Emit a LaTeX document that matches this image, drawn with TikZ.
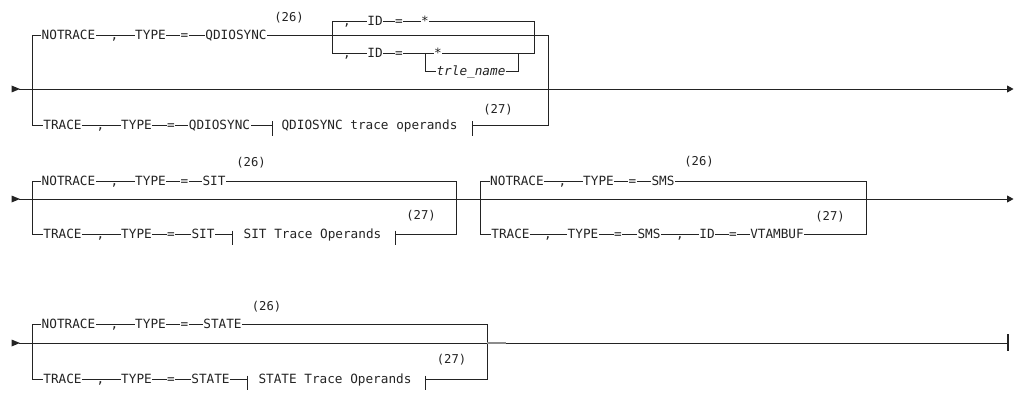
\documentclass[tikz,border=0pt]{standalone}
\usepackage{fontspec}
\newfontfamily\railfont{DejaVu Sans Mono}[ItalicFont={DejaVu Sans Mono Oblique}]
\usetikzlibrary{arrows.meta}
\definecolor{rgray}{RGB}{35,35,35}

\tikzset{
  rail/.style={draw=rgray, line width=0.9pt},
  kw/.style={font=\railfont\fontsize{12.7}{15}\selectfont, text=rgray, fill=white,
    inner xsep=0.6pt, inner ysep=0.4pt, anchor=base, yshift=-4.6pt},
  fnote/.style={font=\railfont\fontsize{12.2}{15}\selectfont, text=rgray, inner sep=0pt},
  railend/.style={-{Triangle[length=6.5pt,width=7pt]}}
}

\newcommand{\railstart}[1]{\fill[rgray] (11.5,#1-3.5) -- (20,#1) -- (11.5,#1+3.5) -- cycle;}

\begin{document}
\begin{tikzpicture}[x=1pt,y=-1pt]
\useasboundingbox (0,0) rectangle (1014,393);
\def\tickup{3.5}
\def\ticklen{11}

%%% first line: QDIOSYNC
\def\ya{35}
\def\ym{89}
\def\yb{125}
\railstart{\ym}
\draw[rail,railend] (19,\ym) -- (1013.5,\ym);
%choice NOTRACE / TRACE
\coordinate (r1tl) at (32,\ya);
\coordinate (r1bl) at (32,\yb);
\coordinate (r1tr) at (548,\ya);
\coordinate (r1br) at (548,\yb);
\draw[rail] (r1tr) -- (r1tl) -- (r1bl) -- (272,\yb);
\draw[rail] (472,\yb) -- (r1br) -- (r1tr);
\draw[rail] (272,\yb-\tickup) -- (272,\yb+\ticklen);
\draw[rail] (472,\yb-\tickup) -- (472,\yb+\ticklen);
%optional ID stack
\coordinate (r1id1) at (332,21);
\coordinate (r1id2) at (534,53);
\draw[rail] (r1id1) rectangle (r1id2);
\draw[rail] (425,53) |- (518,71) -- (518,53);

\foreach \x/\t [count=\i] in {68.5/NOTRACE,114.5/{,},150.5/TYPE,184.5/=,236/QDIOSYNC}
  \node[kw] (r1a\i) at (\x,\ya) {\t};
\foreach \x/\t [count=\i] in {347/{,},375/ID,399/=,425/*}
  \node[kw] (r1c\i) at (\x,21) {\t};
\foreach \x/\t [count=\i] in {347/{,},375/ID,399/=,438/*}
  \node[kw] (r1d\i) at (\x,53) {\t};
\node[kw] (r1trle) at (471,71) {\itshape trle\_name};
\foreach \x/\t [count=\i] in {62.5/TRACE,100.5/{,},136.5/TYPE,171/=,219.5/QDIOSYNC}
  \node[kw] (r1b\i) at (\x,\yb) {\t};
\node[kw,fill=none] (r1frag) at (369.5,\yb) {QDIOSYNC trace operands};
\node[fnote] (r1n26) at (289,18) {(26)};
\node[fnote] (r1n27) at (498,110) {(27)};

%%% second line: SIT and SMS
\def\ya{181}
\def\ym{199}
\def\yb{234}
\railstart{\ym}
\draw[rail,railend] (19,\ym) -- (1013.5,\ym);
%SIT
\coordinate (r2tl) at (32,\ya);
\coordinate (r2bl) at (32,\yb);
\coordinate (r2tr) at (456,\ya);
\coordinate (r2br) at (456,\yb);
\draw[rail] (r2tr) -- (r2tl) -- (r2bl) -- (232,\yb);
\draw[rail] (395,\yb) -- (r2br) -- (r2tr);
\draw[rail] (232,\yb-\tickup) -- (232,\yb+\ticklen);
\draw[rail] (395,\yb-\tickup) -- (395,\yb+\ticklen);
\foreach \x/\t [count=\i] in {68.5/NOTRACE,114.5/{,},150.5/TYPE,184.5/=,214/SIT}
  \node[kw] (r2a\i) at (\x,\ya) {\t};
\foreach \x/\t [count=\i] in {62.5/TRACE,100.5/{,},136.5/TYPE,171/=,203/SIT}
  \node[kw] (r2b\i) at (\x,\yb) {\t};
\node[kw,fill=none] (r2frag) at (312.5,\yb) {SIT Trace Operands};
\node[fnote] (r2n26) at (251,163) {(26)};
\node[fnote] (r2n27) at (421,216) {(27)};
%SMS
\coordinate (r2stl) at (480,\ya);
\coordinate (r2sbl) at (480,\yb);
\coordinate (r2str) at (866,\ya);
\coordinate (r2sbr) at (866,\yb);
\draw[rail] (r2str) -- (r2stl) -- (r2sbl) -- (r2sbr) -- cycle;
\foreach \x/\t [count=\i] in {517/NOTRACE,562.5/{,},598.5/TYPE,632.5/=,663/SMS}
  \node[kw] (r2c\i) at (\x,\ya) {\t};
\foreach \x/\t [count=\i] in {510.5/TRACE,548/{,},583/TYPE,618/=,649/SMS,680/{,},707/ID,733/=,777/VTAMBUF}
  \node[kw] (r2d\i) at (\x,\yb) {\t};
\node[fnote] (r2sn26) at (699,162) {(26)};
\node[fnote] (r2sn27) at (830,217) {(27)};

%%% third line: STATE
\def\ya{324}
\def\ym{343}
\def\yb{379}
\railstart{\ym}
\coordinate (r3end) at (1008,\ym);
\draw[rail] (19,\ym) -- (r3end);
\draw[rail,line width=1.5pt] (1008,\ym-9) -- (1008,\ym+8);
\coordinate (r3tl) at (32,\ya);
\coordinate (r3bl) at (32,\yb);
\coordinate (r3tr) at (487,\ya);
\coordinate (r3br) at (487,\yb);
\draw[rail] (r3tr) -- (r3tl) -- (r3bl) -- (247,\yb);
\draw[rail] (425,\yb) -- (r3br) -- (r3tr);
\draw[rail] (247,\yb-\tickup) -- (247,\yb+\ticklen);
\draw[rail] (425,\yb-\tickup) -- (425,\yb+\ticklen);
\draw[draw=black!45,line width=1.4pt] (r3tr |- 0,\ym) -- (506,\ym);
\foreach \x/\t [count=\i] in {68.5/NOTRACE,114.5/{,},150.5/TYPE,184.5/=,222.5/STATE}
  \node[kw] (r3a\i) at (\x,\ya) {\t};
\foreach \x/\t [count=\i] in {62.5/TRACE,100.5/{,},136.5/TYPE,171/=,210.5/STATE}
  \node[kw] (r3b\i) at (\x,\yb) {\t};
\node[kw,fill=none] (r3frag) at (335,\yb) {STATE Trace Operands};
\node[fnote] (r3n26) at (266.5,307) {(26)};
\node[fnote] (r3n27) at (451.5,360) {(27)};

\end{tikzpicture}
\end{document}
